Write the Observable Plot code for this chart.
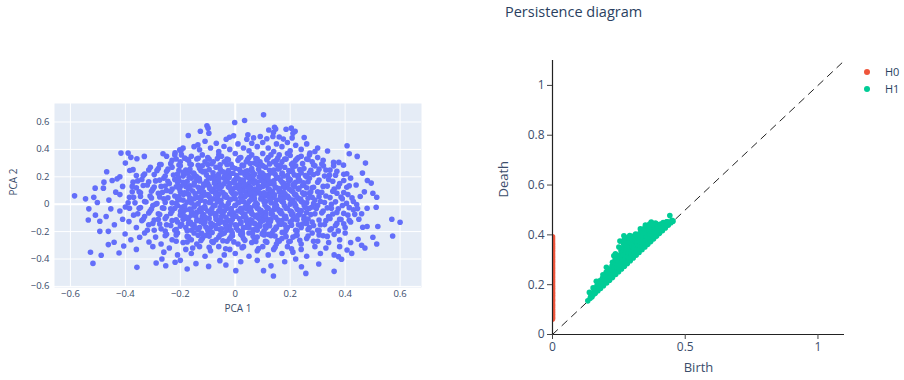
<!DOCTYPE html>
<html>
<head>
<meta charset="utf-8">
<script src="https://cdn.jsdelivr.net/npm/d3@7"></script>
<script src="https://cdn.jsdelivr.net/npm/@observablehq/plot@0.6"></script>
<style>
  body { margin: 0; background: #fff; font-family: "Open Sans", sans-serif; }
  #root { position: relative; width: 904px; height: 380px; overflow: hidden; }
  .panel { position: absolute; top: 0; }
  .panel svg { display: block; max-width: none; }
  #title { position: absolute; left: 505px; top: 3px; font-size: 14.5px; line-height: 18px; color: #2a3f5f; white-space: nowrap; }
  .leg { position: absolute; left: 864px; font-size: 11px; line-height: 14px; color: #2a3f5f; }
  .leg i { display: inline-block; width: 6px; height: 6px; border-radius: 50%; margin-right: 15px; vertical-align: 1px; }
</style>
</head>
<body>
<div id="root">
  <div id="leftPanel" class="panel" style="left:0;width:440px;height:330px"></div>
  <div id="rightPanel" class="panel" style="left:480px;width:424px;height:380px"></div>
  <div id="title">Persistence diagram</div>
  <div class="leg" style="top:65px"><i style="background:#EF553B"></i>H0</div>
  <div class="leg" style="top:82px"><i style="background:#00CC96"></i>H1</div>
</div>
<script>
// PCA projection of the point cloud: [PCA 1, PCA 2]
const pcaOuter = [
  [0.103,0.652],[0.034,0.611],[-0.002,0.596],[-0.103,0.572],[-0.099,0.555],[0.143,0.562],[0.122,0.542],[0.185,0.547],[0.204,0.555],[0.147,0.548],
  [-0.127,0.533],[-0.096,0.518],[-0.171,0.501],[0.139,0.523],[0.137,0.494],[0.21,0.518],[0.207,0.484],[0.067,0.484],[0.091,0.494],[0.046,0.506],
  [0.042,0.474],[-0.021,0.489],[-0.033,0.474],[0.218,0.532],[0.251,0.487],[0.16,0.49],[0.115,0.478],[0.175,0.475],[-0.006,0.5],
  [-0.069,0.445],[-0.041,0.421],[-0.136,0.433],[-0.13,0.397],[-0.202,0.397],[-0.19,0.409],[-0.416,0.373],[-0.39,0.373],[-0.219,0.376],[-0.198,0.388],
  [-0.263,0.368],[0.336,0.388],[0.407,0.427],[0.272,0.373],[0.415,0.368],[-0.11,0.46],[0.01,0.44],[0.03,0.41],[0.06,0.445],[0.08,0.42],[0.1,0.45],
  [0.12,0.41],[0.15,0.44],[0.17,0.42],[0.19,0.45],[0.22,0.43],[0.24,0.4],[0.26,0.44],[0.2,0.39],[-0.02,0.4],[-0.09,0.41],[-0.15,0.42],[0.05,0.39],
  [0.14,0.385],[-0.06,0.385],[0.3,0.41],[0.29,0.385],
  [-0.196,0.36],[-0.184,0.336],[-0.358,0.332],[-0.331,0.349],[-0.38,0.342],[-0.4,0.3],[-0.25,0.35],[-0.23,0.32],[-0.16,0.35],[-0.14,0.33],[-0.12,0.36],
  [-0.1,0.34],[-0.08,0.31],[-0.05,0.35],[-0.03,0.33],[0.0,0.37],[0.02,0.34],[0.04,0.31],[0.06,0.36],[0.08,0.33],[0.1,0.37],[0.12,0.34],[0.14,0.31],
  [0.16,0.36],[0.18,0.33],[0.2,0.355],[0.22,0.32],[0.24,0.35],[0.26,0.33],[0.28,0.31],[0.3,0.34],[0.32,0.32],[0.358,0.305],[0.377,0.305],[0.07,0.3],
  [-0.2,0.31],[-0.06,0.36],[0.15,0.32],[0.21,0.3],[0.444,0.349],
  [-0.22,0.36],[-0.17,0.32],[-0.11,0.31],[-0.04,0.31],[0.01,0.32],[0.05,0.34],[0.09,0.31],[0.13,0.36],[0.17,0.31],[0.19,0.37],[0.23,0.34],[0.27,0.36],
  [-0.468,0.237],[-0.384,0.246],[-0.372,0.252],[-0.309,0.27],[-0.33,0.22],[-0.28,0.26],[-0.27,0.29],[-0.25,0.24],[-0.23,0.27],[-0.21,0.22],[-0.2,0.28],
  [-0.18,0.25],[-0.16,0.29],[-0.15,0.22],[-0.13,0.26],[-0.11,0.24],[-0.1,0.29],[-0.08,0.21],[-0.07,0.27],[-0.05,0.24],[-0.03,0.29],[-0.02,0.22],
  [0.0,0.26],[0.02,0.23],[0.03,0.28],[0.05,0.21],[0.06,0.26],[0.08,0.29],[0.09,0.23],[0.11,0.27],[0.12,0.21],[0.14,0.25],[0.15,0.29],[0.17,0.22],
  [0.18,0.27],[0.2,0.24],[0.22,0.28],[0.23,0.21],[0.25,0.26],[0.27,0.23],[0.29,0.28],[0.3,0.227],[0.321,0.28],[0.343,0.212],[0.358,0.28],[0.394,0.285],
  [0.406,0.222],[0.463,0.227],[0.474,0.3],[0.33,0.25],[0.37,0.24],[-0.36,0.21],[-0.42,0.2],[-0.04,0.2],[0.1,0.2],[-0.19,0.205],[0.26,0.2],
  [-0.17,0.23],[-0.12,0.28],[-0.06,0.22],[-0.01,0.27],[0.04,0.24],[0.07,0.22],[0.1,0.28],[0.13,0.23],[0.16,0.26],[0.19,0.21],[0.21,0.27],[0.24,0.23],
  [-0.478,0.161],[-0.448,0.173],[-0.43,0.185],[-0.372,0.161],[-0.51,0.117],[-0.48,0.117],[-0.41,0.13],[-0.36,0.12],[-0.34,0.18],[-0.32,0.14],[-0.3,0.11],
  [-0.29,0.17],[-0.27,0.13],[-0.26,0.19],[-0.24,0.15],[-0.23,0.11],[-0.22,0.18],[-0.2,0.13],[-0.19,0.16],[-0.17,0.11],[-0.16,0.19],[-0.15,0.14],
  [-0.13,0.17],[-0.12,0.12],[-0.1,0.15],[-0.09,0.19],[-0.08,0.11],[-0.06,0.16],[-0.05,0.13],[-0.04,0.19],[-0.02,0.15],[-0.01,0.11],[0.0,0.18],
  [0.01,0.14],[0.03,0.12],[0.03,0.17],[0.05,0.15],[0.06,0.19],[0.07,0.11],[0.08,0.16],[0.1,0.13],[0.11,0.18],[0.12,0.11],[0.13,0.15],[0.15,0.12],
  [0.15,0.19],[0.17,0.16],[0.18,0.12],[0.2,0.18],[0.21,0.14],[0.23,0.11],[0.23,0.17],[0.25,0.14],[0.27,0.19],[0.28,0.12],[0.3,0.16],[0.32,0.13],
  [0.34,0.18],[0.36,0.11],[0.38,0.15],[0.406,0.124],[0.481,0.173],[0.495,0.154],[0.44,0.14],[0.42,0.19],[-0.14,0.2],[0.04,0.2],
  [-0.21,0.16],[-0.18,0.13],[-0.14,0.18],[-0.11,0.14],[-0.07,0.13],[-0.03,0.17],[0.0,0.12],[0.02,0.16],[0.04,0.13],[0.07,0.17],[0.09,0.12],
  [0.12,0.15],[0.14,0.17],[0.16,0.11],[0.19,0.14],[0.22,0.16],[0.26,0.12],
  [-0.585,0.061],[-0.545,0.039],[-0.502,0.012],[-0.435,0.088],[-0.515,0.05],[-0.46,0.03],[-0.42,0.07],[-0.39,0.01],[-0.37,0.05],[-0.35,0.09],
  [-0.33,0.02],[-0.31,0.06],[-0.29,0.0],[-0.28,0.08],[-0.26,0.04],[-0.25,0.1],[-0.23,0.01],[-0.22,0.06],[-0.2,0.09],[-0.19,0.03],[-0.17,0.07],
  [-0.16,0.01],[-0.14,0.05],[-0.13,0.09],[-0.11,0.02],[-0.1,0.07],[-0.08,0.04],[-0.07,0.09],[-0.05,0.0],[-0.04,0.06],[-0.02,0.03],[-0.01,0.08],
  [0.01,0.01],[0.02,0.05],[0.04,0.09],[0.05,0.02],[0.06,0.06],[0.08,0.0],[0.09,0.08],[0.1,0.04],[0.12,0.07],[0.13,0.01],[0.14,0.05],[0.16,0.09],
  [0.17,0.02],[0.19,0.06],[0.2,0.0],[0.21,0.09],[0.23,0.04],[0.25,0.07],[0.26,0.01],[0.28,0.05],[0.3,0.09],[0.31,0.02],[0.33,0.06],[0.35,0.0],
  [0.37,0.08],[0.39,0.04],[0.41,0.07],[0.43,0.02],[0.455,0.056],[0.501,0.08],[0.515,0.051],[0.442,-0.002],[0.47,0.09],
  [-0.21,0.04],[-0.18,0.08],[-0.15,0.04],[-0.12,0.06],[-0.09,0.02],[-0.06,0.07],[-0.03,0.05],[0.0,0.04],[0.02,0.08],[0.03,0.02],[0.05,0.07],
  [0.07,0.04],[0.08,0.09],[0.11,0.02],[0.11,0.06],[0.13,0.08],[0.15,0.03],[0.18,0.05],[0.21,0.03],[0.22,0.07],[0.24,0.02],[0.27,0.08],[0.29,0.03],
  [-0.533,-0.034],[-0.509,-0.08],[-0.453,-0.034],[-0.47,-0.09],[-0.42,-0.05],[-0.4,-0.02],[-0.37,-0.08],[-0.35,-0.03],[-0.33,-0.09],[-0.31,-0.05],
  [-0.3,-0.01],[-0.28,-0.07],[-0.26,-0.03],[-0.25,-0.09],[-0.23,-0.05],[-0.21,-0.01],[-0.2,-0.08],[-0.18,-0.04],[-0.17,-0.1],[-0.15,-0.02],
  [-0.14,-0.06],[-0.12,-0.09],[-0.11,-0.03],[-0.09,-0.07],[-0.08,-0.01],[-0.06,-0.05],[-0.05,-0.09],[-0.03,-0.03],[-0.02,-0.07],[0.0,-0.01],
  [0.01,-0.05],[0.03,-0.09],[0.04,-0.03],[0.06,-0.07],[0.07,-0.01],[0.09,-0.05],[0.1,-0.09],[0.12,-0.03],[0.13,-0.07],[0.15,-0.01],[0.16,-0.05],
  [0.18,-0.09],[0.19,-0.03],[0.21,-0.07],[0.22,-0.01],[0.24,-0.05],[0.25,-0.09],[0.27,-0.03],[0.29,-0.07],[0.3,-0.01],[0.32,-0.05],[0.34,-0.09],
  [0.35,-0.03],[0.37,-0.06],[0.39,-0.01],[0.41,-0.08],[0.43,-0.04],[0.46,-0.07],[0.513,-0.022],[0.48,-0.03],
  [-0.22,-0.03],[-0.19,-0.06],[-0.16,-0.08],[-0.13,-0.04],[-0.1,-0.05],[-0.07,-0.08],[-0.04,-0.05],[-0.01,-0.08],[0.02,-0.03],[0.05,-0.05],
  [0.08,-0.08],[0.08,-0.03],[0.11,-0.06],[0.14,-0.04],[0.17,-0.07],[0.2,-0.05],[0.23,-0.08],[0.26,-0.06],[0.28,-0.02],
  [-0.535,-0.115],[-0.493,-0.124],[-0.493,-0.198],[-0.462,-0.198],[-0.387,-0.127],[-0.44,-0.15],[-0.41,-0.11],[-0.36,-0.17],[-0.34,-0.12],
  [-0.32,-0.19],[-0.3,-0.14],[-0.28,-0.11],[-0.27,-0.18],[-0.25,-0.15],[-0.23,-0.12],[-0.22,-0.19],[-0.2,-0.16],[-0.19,-0.11],[-0.17,-0.14],
  [-0.16,-0.19],[-0.14,-0.12],[-0.13,-0.17],[-0.11,-0.13],[-0.1,-0.19],[-0.08,-0.15],[-0.07,-0.11],[-0.05,-0.18],[-0.04,-0.13],[-0.02,-0.16],
  [-0.01,-0.11],[0.01,-0.19],[0.02,-0.14],[0.04,-0.12],[0.05,-0.17],[0.07,-0.14],[0.08,-0.19],[0.1,-0.12],[0.11,-0.16],[0.13,-0.11],[0.14,-0.19],
  [0.16,-0.14],[0.17,-0.12],[0.19,-0.17],[0.2,-0.13],[0.22,-0.19],[0.23,-0.15],[0.25,-0.11],[0.27,-0.17],[0.28,-0.13],[0.3,-0.19],[0.31,-0.15],
  [0.33,-0.12],[0.35,-0.18],[0.37,-0.14],[0.38,-0.11],[0.4,-0.17],[0.42,-0.13],[0.464,-0.168],[0.48,-0.163],[0.519,-0.163],[0.57,-0.11],
  [0.6,-0.132],[0.45,-0.11],
  [-0.21,-0.13],[-0.18,-0.17],[-0.15,-0.15],[-0.12,-0.11],[-0.09,-0.17],[-0.06,-0.14],[-0.03,-0.19],[0.0,-0.15],[0.03,-0.17],[0.06,-0.12],
  [0.09,-0.16],[0.12,-0.14],[0.15,-0.17],[0.18,-0.15],[0.21,-0.11],[0.24,-0.17],[0.26,-0.14],
  [-0.462,-0.295],[-0.441,-0.278],[-0.401,-0.217],[-0.348,-0.241],[-0.314,-0.276],[-0.38,-0.26],[-0.33,-0.21],[-0.29,-0.24],[-0.27,-0.29],
  [-0.25,-0.22],[-0.23,-0.26],[-0.21,-0.21],[-0.19,-0.28],[-0.17,-0.24],[-0.15,-0.21],[-0.14,-0.29],[-0.12,-0.25],[-0.1,-0.22],[-0.08,-0.28],
  [-0.06,-0.24],[-0.04,-0.21],[-0.03,-0.27],[-0.01,-0.23],[0.01,-0.29],[0.03,-0.25],[0.05,-0.21],[0.06,-0.28],[0.08,-0.24],[0.1,-0.21],
  [0.11,-0.27],[0.13,-0.23],[0.15,-0.29],[0.17,-0.25],[0.18,-0.21],[0.2,-0.27],[0.22,-0.23],[0.24,-0.29],[0.26,-0.25],[0.28,-0.21],[0.3,-0.27],
  [0.32,-0.23],[0.34,-0.28],[0.36,-0.22],[0.38,-0.26],[0.4,-0.21],[0.42,-0.28],[0.447,-0.256],[0.501,-0.241],[0.515,-0.29],[0.573,-0.232],
  [-0.16,-0.26],[-0.11,-0.23],[-0.07,-0.26],[-0.02,-0.25],[0.02,-0.22],[0.07,-0.26],[0.12,-0.22],[0.16,-0.27],[0.21,-0.24],
  [-0.527,-0.351],[-0.488,-0.373],[-0.423,-0.356],[-0.406,-0.305],[-0.36,-0.33],[-0.3,-0.31],[-0.26,-0.35],[-0.24,-0.32],[-0.21,-0.37],
  [-0.18,-0.33],[-0.16,-0.36],[-0.13,-0.31],[-0.11,-0.38],[-0.09,-0.34],[-0.06,-0.31],[-0.04,-0.37],[-0.02,-0.33],[0.0,-0.36],[0.03,-0.31],
  [0.05,-0.38],[0.08,-0.34],[0.1,-0.31],[0.12,-0.37],[0.14,-0.33],[0.17,-0.36],[0.19,-0.31],[0.21,-0.35],[0.24,-0.33],[0.26,-0.38],[0.29,-0.31],
  [0.31,-0.36],[0.33,-0.32],[0.36,-0.37],[0.38,-0.31],[0.407,-0.334],[0.424,-0.359],[0.376,-0.383],[0.472,-0.32],[0.46,-0.3],
  [-0.518,-0.432],[-0.358,-0.461],[-0.288,-0.429],[-0.267,-0.4],[-0.253,-0.449],[-0.219,-0.424],[-0.175,-0.473],[-0.143,-0.434],[-0.097,-0.454],
  [-0.056,-0.412],[-0.034,-0.444],[0.002,-0.485],[0.103,-0.485],[0.139,-0.524],[0.241,-0.456],[0.257,-0.505],[0.304,-0.437],[0.36,-0.49],
  [0.387,-0.402],[0.08,-0.41],[0.18,-0.42],[0.22,-0.4],[-0.2,-0.41],[0.13,-0.45],[0.02,-0.42]
];
// The densely packed middle of the cloud
const pcaCore = [
  [-0.215,0.33],[-0.175,0.326],[-0.135,0.335],[-0.095,0.328],[-0.065,0.333],[-0.025,0.324],[0.015,0.336],[0.045,0.327],[0.075,0.334],[0.115,0.325],[0.155,0.337],[0.185,0.329],[0.225,0.332],[0.265,0.326],
  [-0.275,0.29],[-0.235,0.296],[-0.205,0.286],[-0.165,0.293],[-0.135,0.284],[-0.085,0.295],[-0.055,0.288],[-0.015,0.292],[0.025,0.285],[0.055,0.297],[0.095,0.287],[0.125,0.294],[0.165,0.283],[0.205,0.291],[0.245,0.296],[0.285,0.287],[0.315,0.293],
  [-0.315,0.25],[-0.285,0.245],[-0.245,0.256],[-0.205,0.248],[-0.165,0.254],[-0.125,0.244],[-0.095,0.252],[-0.055,0.257],[-0.025,0.246],[0.015,0.253],[0.045,0.243],[0.085,0.255],[0.125,0.248],[0.155,0.257],[0.195,0.245],[0.235,0.252],[0.275,0.247],[0.305,0.256],[0.345,0.249],
  [-0.335,0.21],[-0.295,0.216],[-0.255,0.205],[-0.225,0.213],[-0.185,0.218],[-0.145,0.207],[-0.105,0.214],[-0.065,0.204],[-0.035,0.217],[0.005,0.209],[0.035,0.215],[0.065,0.204],[0.105,0.212],[0.145,0.218],[0.175,0.206],[0.215,0.214],[0.255,0.209],[0.285,0.216],[0.325,0.205],[0.365,0.212],[0.395,0.218],
  [-0.355,0.17],[-0.315,0.164],[-0.275,0.176],[-0.245,0.167],[-0.205,0.173],[-0.175,0.165],[-0.135,0.177],[-0.105,0.168],[-0.075,0.174],[-0.035,0.163],[-0.005,0.171],[0.025,0.177],[0.055,0.166],[0.095,0.173],[0.125,0.164],[0.165,0.175],[0.195,0.168],[0.235,0.172],[0.265,0.163],[0.305,0.176],[0.355,0.167],[0.395,0.173],
  [-0.375,0.13],[-0.335,0.136],[-0.295,0.125],[-0.255,0.133],[-0.215,0.127],[-0.165,0.135],[-0.135,0.124],[-0.095,0.132],[-0.055,0.137],[-0.025,0.126],[0.015,0.134],[0.055,0.123],[0.085,0.131],[0.115,0.137],[0.145,0.126],[0.175,0.133],[0.215,0.128],[0.245,0.136],[0.285,0.124],[0.335,0.132],[0.375,0.127],[0.415,0.135],
  [-0.375,0.09],[-0.345,0.084],[-0.305,0.095],[-0.265,0.087],[-0.235,0.093],[-0.185,0.083],[-0.155,0.096],[-0.115,0.088],[-0.085,0.094],[-0.045,0.085],[-0.015,0.092],[0.025,0.097],[0.055,0.086],[0.075,0.093],[0.105,0.084],[0.135,0.095],[0.175,0.089],[0.205,0.096],[0.245,0.083],[0.275,0.091],[0.315,0.087],[0.355,0.094],[0.395,0.085],
  [-0.385,0.05],[-0.345,0.056],[-0.305,0.045],[-0.275,0.053],[-0.245,0.047],[-0.205,0.055],[-0.165,0.044],[-0.125,0.052],[-0.095,0.057],[-0.065,0.046],[-0.035,0.053],[-0.005,0.043],[0.035,0.055],[0.065,0.048],[0.095,0.054],[0.125,0.045],[0.165,0.057],[0.195,0.046],[0.225,0.052],[0.265,0.043],[0.305,0.055],[0.345,0.048],[0.385,0.053],[0.425,0.046],
  [-0.365,0.01],[-0.325,0.016],[-0.285,0.005],[-0.255,0.013],[-0.215,0.007],[-0.175,0.015],[-0.135,0.004],[-0.095,0.012],[-0.065,0.017],[-0.025,0.006],[0.015,0.014],[0.045,0.003],[0.075,0.011],[0.105,0.016],[0.145,0.005],[0.175,0.013],[0.215,0.008],[0.245,0.015],[0.285,0.004],[0.325,0.012],[0.365,0.017],[0.405,0.006],
  [-0.385,-0.03],[-0.345,-0.024],[-0.305,-0.035],[-0.265,-0.027],[-0.235,-0.033],[-0.195,-0.023],[-0.165,-0.036],[-0.125,-0.028],[-0.085,-0.034],[-0.055,-0.025],[-0.015,-0.032],[0.025,-0.037],[0.055,-0.026],[0.085,-0.033],[0.115,-0.024],[0.155,-0.035],[0.185,-0.029],[0.225,-0.036],[0.255,-0.023],[0.295,-0.031],[0.335,-0.027],[0.375,-0.034],[0.415,-0.025],[0.445,-0.032],
  [-0.355,-0.07],[-0.315,-0.064],[-0.275,-0.075],[-0.235,-0.067],[-0.195,-0.073],[-0.155,-0.063],[-0.115,-0.076],[-0.075,-0.068],[-0.045,-0.074],[-0.005,-0.065],[0.035,-0.072],[0.065,-0.077],[0.095,-0.066],[0.135,-0.073],[0.165,-0.064],[0.205,-0.075],[0.235,-0.069],[0.275,-0.076],[0.315,-0.063],[0.355,-0.071],[0.395,-0.067],[0.435,-0.074],
  [-0.335,-0.11],[-0.295,-0.116],[-0.255,-0.105],[-0.215,-0.113],[-0.175,-0.107],[-0.135,-0.115],[-0.095,-0.104],[-0.055,-0.112],[-0.025,-0.117],[0.015,-0.106],[0.055,-0.114],[0.085,-0.103],[0.115,-0.111],[0.155,-0.116],[0.185,-0.105],[0.225,-0.113],[0.265,-0.108],[0.305,-0.115],[0.345,-0.104],[0.385,-0.112],[0.415,-0.117],
  [-0.315,-0.15],[-0.275,-0.144],[-0.235,-0.155],[-0.195,-0.147],[-0.155,-0.153],[-0.115,-0.143],[-0.075,-0.156],[-0.035,-0.148],[0.005,-0.154],[0.045,-0.145],[0.085,-0.152],[0.125,-0.157],[0.165,-0.146],[0.205,-0.153],[0.245,-0.144],[0.285,-0.155],[0.325,-0.149],[0.365,-0.156],[0.395,-0.143],
  [-0.295,-0.19],[-0.255,-0.196],[-0.215,-0.185],[-0.175,-0.193],[-0.135,-0.187],[-0.095,-0.195],[-0.055,-0.184],[-0.015,-0.192],[0.025,-0.197],[0.065,-0.186],[0.105,-0.194],[0.145,-0.183],[0.185,-0.191],[0.225,-0.196],[0.265,-0.185],[0.305,-0.193],[0.345,-0.188],[0.375,-0.195],
  [-0.255,-0.23],[-0.215,-0.224],[-0.175,-0.235],[-0.135,-0.227],[-0.095,-0.233],[-0.055,-0.223],[-0.015,-0.236],[0.025,-0.228],[0.065,-0.234],[0.105,-0.225],[0.145,-0.232],[0.185,-0.237],[0.225,-0.226],[0.265,-0.233],[0.305,-0.224],[0.335,-0.235],
  [-0.215,-0.27],[-0.175,-0.276],[-0.125,-0.265],[-0.085,-0.273],[-0.045,-0.267],[-0.005,-0.275],[0.035,-0.264],[0.075,-0.272],[0.115,-0.277],[0.155,-0.266],[0.195,-0.274],[0.235,-0.263],[0.285,-0.271],
  [-0.155,-0.32],[-0.095,-0.314],[-0.035,-0.325],[0.025,-0.317],[0.085,-0.323],[0.145,-0.315],[0.205,-0.326]
];
// Innermost, almost solid part of the cloud
const pcaInner = [
  [-0.19,0.232],[-0.152,0.227],[-0.118,0.236],[-0.081,0.229],[-0.043,0.235],[-0.008,0.226],[0.028,0.233],[0.062,0.238],[0.098,0.228],[0.137,0.234],[0.171,0.227],[0.208,0.236],
  [-0.207,0.192],[-0.168,0.197],[-0.131,0.187],[-0.097,0.194],[-0.058,0.189],[-0.022,0.196],[0.012,0.186],[0.049,0.193],[0.087,0.198],[0.119,0.188],[0.156,0.195],[0.193,0.19],[0.229,0.197],
  [-0.186,0.152],[-0.149,0.157],[-0.115,0.147],[-0.076,0.154],[-0.041,0.149],[-0.004,0.156],[0.034,0.146],[0.068,0.153],[0.103,0.158],[0.141,0.148],[0.176,0.155],[0.214,0.15],[0.248,0.157],
  [-0.203,0.112],[-0.165,0.117],[-0.128,0.107],[-0.093,0.114],[-0.057,0.109],[-0.019,0.116],[0.016,0.106],[0.051,0.113],[0.088,0.118],[0.124,0.108],[0.159,0.115],[0.197,0.11],[0.232,0.117],
  [-0.188,0.072],[-0.146,0.077],[-0.109,0.067],[-0.072,0.074],[-0.036,0.069],[0.001,0.076],[0.038,0.066],[0.072,0.073],[0.107,0.078],[0.143,0.068],[0.181,0.075],[0.216,0.07],[0.253,0.077],
  [-0.201,0.032],[-0.163,0.037],[-0.126,0.027],[-0.089,0.034],[-0.052,0.029],[-0.016,0.036],[0.021,0.026],[0.057,0.033],[0.093,0.038],[0.128,0.028],[0.164,0.035],[0.202,0.03],[0.238,0.037],
  [-0.184,-0.012],[-0.147,-0.007],[-0.111,-0.017],[-0.074,-0.01],[-0.037,-0.015],[-0.001,-0.008],[0.036,-0.018],[0.071,-0.011],[0.108,-0.006],[0.144,-0.016],[0.179,-0.009],[0.218,-0.014],[0.251,-0.007],
  [-0.199,-0.052],[-0.161,-0.047],[-0.124,-0.057],[-0.088,-0.05],[-0.051,-0.055],[-0.014,-0.048],[0.023,-0.058],[0.058,-0.051],[0.094,-0.046],[0.131,-0.056],[0.166,-0.049],[0.204,-0.054],[0.239,-0.047],
  [-0.182,-0.092],[-0.144,-0.087],[-0.108,-0.097],[-0.071,-0.09],[-0.034,-0.095],[0.003,-0.088],[0.039,-0.098],[0.074,-0.091],[0.111,-0.086],[0.147,-0.096],[0.183,-0.089],[0.221,-0.094],
  [-0.163,-0.132],[-0.126,-0.127],[-0.089,-0.137],[-0.052,-0.13],[-0.016,-0.135],[0.021,-0.128],[0.057,-0.138],[0.092,-0.131],[0.128,-0.126],[0.165,-0.136],[0.203,-0.129],
  [-0.145,-0.172],[-0.107,-0.167],[-0.069,-0.177],[-0.033,-0.17],[0.004,-0.175],[0.041,-0.168],[0.076,-0.178],[0.112,-0.171],[0.149,-0.166],[0.186,-0.176],
  [-0.122,-0.212],[-0.084,-0.207],[-0.047,-0.217],[-0.011,-0.21],[0.026,-0.215],[0.063,-0.208],[0.098,-0.218],[0.134,-0.211],[0.171,-0.206]
];
const pcaTicks = [-0.6, -0.4, -0.2, 0, 0.2, 0.4, 0.6];

// Persistence pairs
const h0Death = [0.062,0.068,0.075,0.081,0.088,0.094,0.101,0.109,0.116,0.122,0.13,0.137,0.143,0.151,0.158,0.165,0.171,0.179,0.186,0.193,0.2,0.207,0.214,0.221,0.229,0.236,0.243,0.25,0.257,0.265,0.272,0.279,0.287,0.294,0.301,0.309,0.316,0.323,0.331,0.338,0.346,0.353,0.361,0.368,0.376,0.384,0.392];
const h1Pairs = [
  [0.133,0.135],[0.139,0.169],[0.142,0.146],[0.145,0.158],[0.149,0.152],[0.153,0.187],[0.155,0.162],[0.157,0.174],[0.161,0.166],[0.165,0.214],
  [0.164,0.18],[0.167,0.195],[0.171,0.176],[0.174,0.188],[0.176,0.203],[0.178,0.216],[0.181,0.185],[0.184,0.197],[0.186,0.212],[0.188,0.226],
  [0.19,0.24],[0.192,0.196],[0.195,0.209],[0.197,0.222],[0.2,0.236],[0.203,0.27],[0.202,0.25],[0.204,0.207],[0.207,0.221],[0.209,0.235],
  [0.211,0.249],[0.213,0.263],[0.215,0.218],[0.218,0.232],[0.22,0.246],[0.222,0.26],[0.224,0.275],[0.226,0.29],[0.226,0.229],[0.229,0.243],
  [0.231,0.316],[0.231,0.257],[0.233,0.272],[0.235,0.286],[0.236,0.3],[0.237,0.324],[0.238,0.241],[0.24,0.255],[0.242,0.269],[0.244,0.283],
  [0.245,0.297],[0.247,0.311],[0.249,0.252],[0.25,0.351],[0.251,0.266],[0.253,0.28],[0.254,0.375],[0.255,0.294],[0.256,0.308],[0.257,0.322],
  [0.258,0.337],[0.26,0.263],[0.262,0.277],[0.263,0.291],[0.264,0.305],[0.265,0.32],[0.266,0.334],[0.267,0.349],[0.268,0.363],[0.269,0.378],
  [0.269,0.396],[0.271,0.274],[0.273,0.288],[0.274,0.302],[0.275,0.316],[0.276,0.331],[0.277,0.345],[0.278,0.36],[0.279,0.374],[0.28,0.388],
  [0.282,0.285],[0.284,0.299],[0.285,0.313],[0.286,0.328],[0.287,0.342],[0.288,0.356],[0.289,0.37],[0.29,0.385],[0.291,0.397],[0.293,0.296],
  [0.295,0.31],[0.296,0.324],[0.297,0.338],[0.298,0.353],[0.299,0.367],[0.3,0.381],[0.301,0.394],[0.304,0.307],[0.306,0.321],[0.307,0.335],
  [0.308,0.349],[0.309,0.364],[0.31,0.378],[0.311,0.392],[0.313,0.403],[0.315,0.318],[0.317,0.332],[0.318,0.346],[0.319,0.36],[0.32,0.375],
  [0.321,0.389],[0.322,0.402],[0.326,0.329],[0.328,0.343],[0.329,0.357],[0.33,0.371],[0.331,0.386],[0.331,0.424],[0.332,0.4],[0.333,0.412],
  [0.337,0.34],[0.339,0.354],[0.34,0.368],[0.341,0.382],[0.342,0.396],[0.343,0.41],[0.344,0.424],[0.348,0.351],[0.35,0.365],[0.35,0.439],
  [0.351,0.379],[0.352,0.393],[0.353,0.407],[0.354,0.421],[0.356,0.434],[0.359,0.362],[0.361,0.376],[0.362,0.39],[0.363,0.404],[0.364,0.418],
  [0.365,0.432],[0.366,0.443],[0.37,0.373],[0.372,0.451],[0.372,0.387],[0.373,0.401],[0.374,0.415],[0.375,0.429],[0.377,0.442],[0.381,0.384],
  [0.383,0.398],[0.384,0.412],[0.385,0.426],[0.386,0.44],[0.388,0.447],[0.392,0.395],[0.394,0.409],[0.394,0.442],[0.395,0.423],[0.397,0.436],
  [0.403,0.406],[0.405,0.42],[0.406,0.434],[0.408,0.443],[0.414,0.417],[0.416,0.431],[0.417,0.449],[0.419,0.44],[0.425,0.428],[0.427,0.441],
  [0.43,0.452],[0.432,0.452],[0.436,0.439],[0.438,0.45],[0.442,0.478],[0.446,0.449],[0.45,0.458],[0.454,0.455]
];
const diagonal = [0, 1.09];
const birthTicks = [0, 0.5, 1];
const deathTicks = [0, 0.2, 0.4, 0.6, 0.8, 1];

const fmt = d3.format("~g");
const tickInk = "#3b4d6b";
const pca = pcaOuter.concat(pcaCore, pcaInner);

// Left panel: PCA scatter on a shaded plotting area
const pcaChart = Plot.plot({
  width: 440, height: 330,
  marginLeft: 54, marginRight: 19, marginTop: 103, marginBottom: 43,
  style: { fontFamily: "'Open Sans', sans-serif", fontSize: "9.5px", color: tickInk, background: "transparent" },
  x: { domain: [-0.658, 0.678] },
  y: { domain: [-0.608, 0.735] },
  marks: [
    Plot.frame({ fill: "#E5ECF6", stroke: "none" }),
    Plot.gridX(pcaTicks, { stroke: "#fff", strokeOpacity: 1, strokeWidth: 1 }),
    Plot.gridY(pcaTicks, { stroke: "#fff", strokeOpacity: 1, strokeWidth: 1 }),
    Plot.ruleX([0], { stroke: "#fff", strokeWidth: 2 }),
    Plot.ruleY([0], { stroke: "#fff", strokeWidth: 2 }),
    Plot.dot(pca, { x: d => d[0], y: d => d[1], r: 2.8, fill: "#636EFA", stroke: "none" }),
    Plot.axisX(pcaTicks, { tickSize: 0, tickPadding: 3, tickFormat: fmt, label: null }),
    Plot.axisY(pcaTicks, { tickSize: 0, tickPadding: 5, tickFormat: fmt, label: null }),
    Plot.text(["PCA 1"], { frameAnchor: "bottom", dy: 24, fontSize: 10, fill: tickInk }),
    Plot.text(["PCA 2"], { frameAnchor: "left", dx: -41, rotate: -90, fontSize: 10, fill: tickInk })
  ]
});
document.getElementById("leftPanel").appendChild(pcaChart);

// Right panel: persistence diagram with the birth = death diagonal
const diagramChart = Plot.plot({
  width: 424, height: 380,
  marginLeft: 72, marginRight: 60, marginTop: 60, marginBottom: 46,
  style: { fontFamily: "'Open Sans', sans-serif", fontSize: "12px", color: tickInk, background: "transparent" },
  x: { domain: [0, 1.1] },
  y: { domain: [0, 1.1] },
  marks: [
    Plot.line(diagonal, { x: d => d, y: d => d, stroke: "#222", strokeWidth: 1, strokeDasharray: "7,6" }),
    Plot.dot(h0Death, { x: () => 0, y: d => d, r: 2.8, fill: "#EF553B", stroke: "none", clip: "frame" }),
    Plot.dot(h1Pairs, { x: d => d[0], y: d => d[1], r: 2.8, fill: "#00CC96", stroke: "none" }),
    Plot.ruleX([0], { stroke: "#222", strokeWidth: 1.2 }),
    Plot.ruleY([0], { stroke: "#222", strokeWidth: 1.2 }),
    Plot.axisX(birthTicks, { tickSize: 5, tickPadding: 3, tickFormat: fmt, label: null, stroke: "#444" }),
    Plot.axisY(deathTicks, { tickSize: 5, tickPadding: 3, tickFormat: fmt, label: null, stroke: "#444" }),
    Plot.text(["Birth"], { frameAnchor: "bottom", dy: 37, fontSize: 13, fill: tickInk }),
    Plot.text(["Death"], { frameAnchor: "left", dx: -49, rotate: -90, fontSize: 13, fill: tickInk })
  ]
});
document.getElementById("rightPanel").appendChild(diagramChart);
</script>
</body>
</html>
